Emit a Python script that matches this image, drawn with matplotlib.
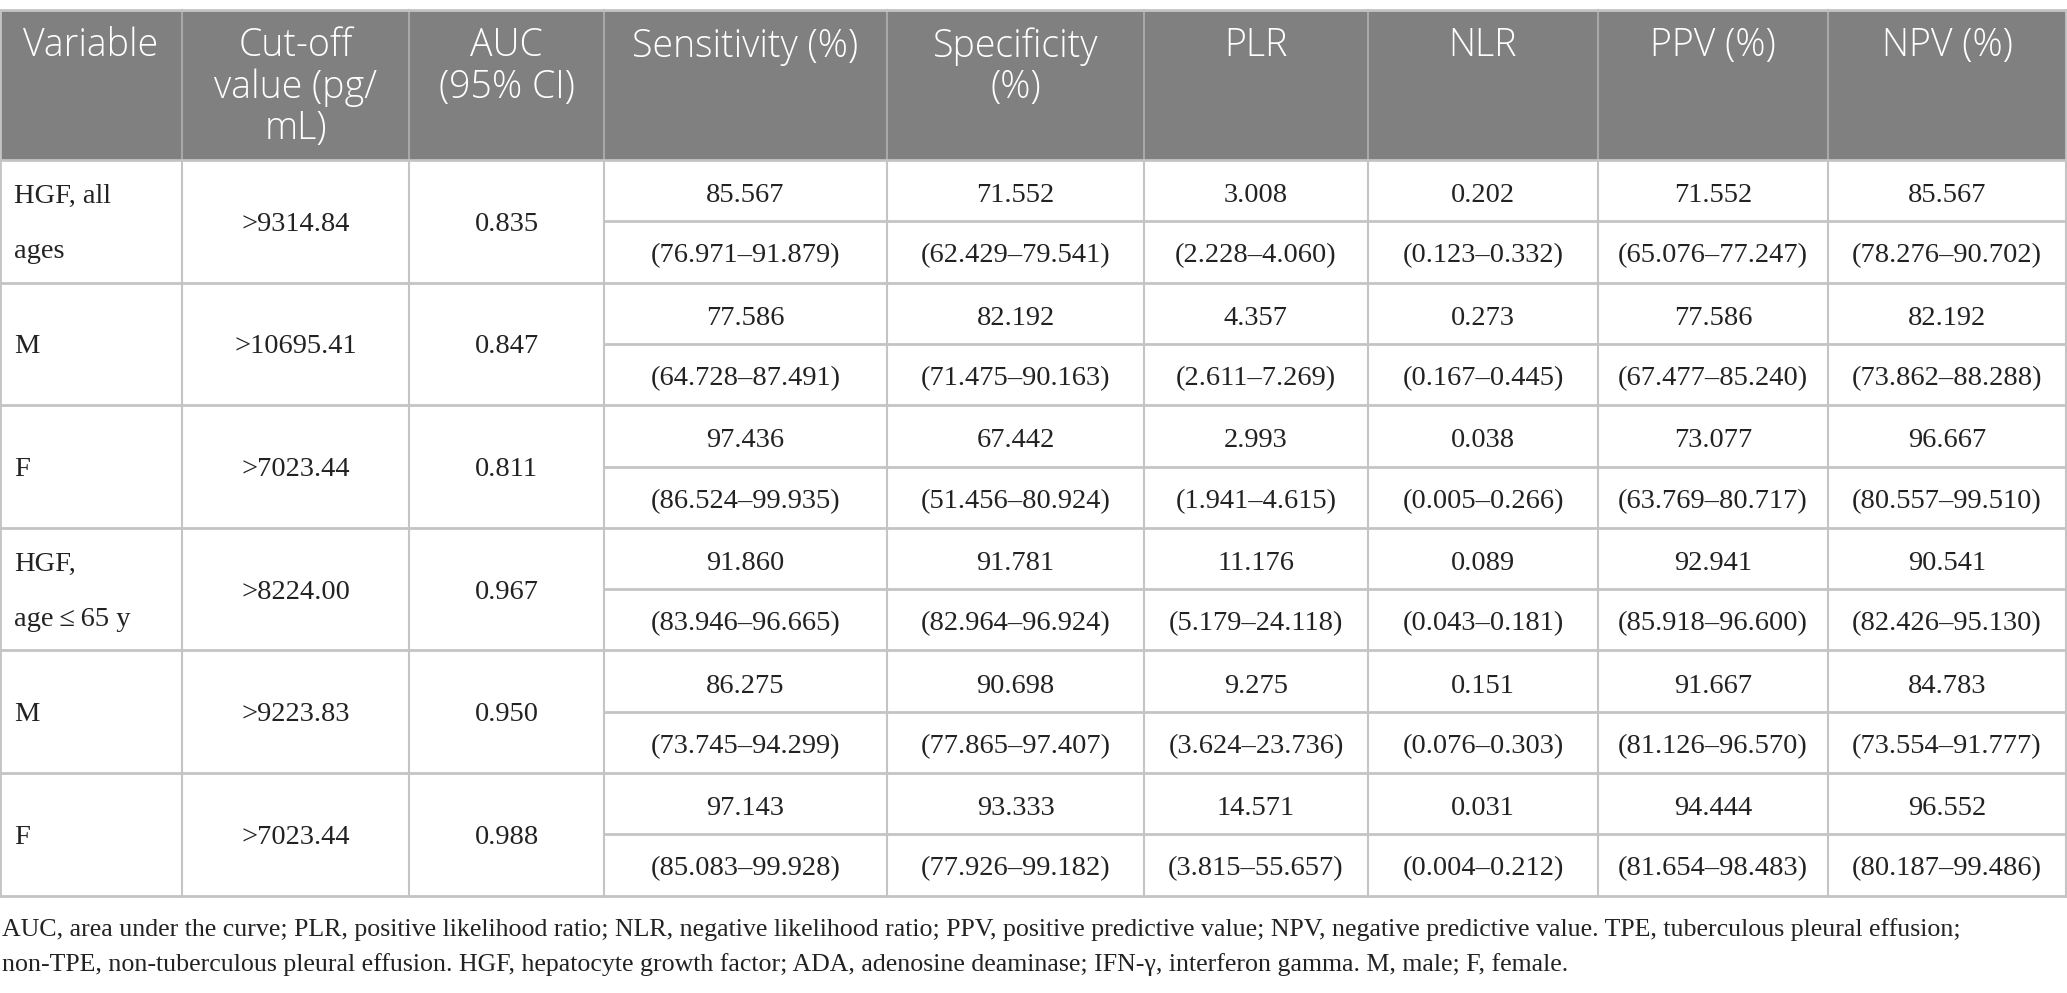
import matplotlib.pyplot as plt
from matplotlib.patches import Rectangle

# table content
headers = ["Variable", "Cut-off\nvalue (pg/\nmL)", "AUC\n(95% CI)", "Sensitivity (%)",
           "Specificity\n(%)", "PLR", "NLR", "PPV (%)", "NPV (%)"]
variables = ["HGF, all\nages", "M", "F", "HGF,\nage\u2009\u2264\u200965 y", "M", "F"]
cutoffs = [">9314.84", ">10695.41", ">7023.44", ">8224.00", ">9223.83", ">7023.44"]
aucs = ["0.835", "0.847", "0.811", "0.967", "0.950", "0.988"]

sens = ["85.567", "77.586", "97.436", "91.860", "86.275", "97.143"]
sens_ci = ["(76.971\u201391.879)", "(64.728\u201387.491)", "(86.524\u201399.935)",
           "(83.946\u201396.665)", "(73.745\u201394.299)", "(85.083\u201399.928)"]
spec = ["71.552", "82.192", "67.442", "91.781", "90.698", "93.333"]
spec_ci = ["(62.429\u201379.541)", "(71.475\u201390.163)", "(51.456\u201380.924)",
           "(82.964\u201396.924)", "(77.865\u201397.407)", "(77.926\u201399.182)"]
plr = ["3.008", "4.357", "2.993", "11.176", "9.275", "14.571"]
plr_ci = ["(2.228\u20134.060)", "(2.611\u20137.269)", "(1.941\u20134.615)",
          "(5.179\u201324.118)", "(3.624\u201323.736)", "(3.815\u201355.657)"]
nlr = ["0.202", "0.273", "0.038", "0.089", "0.151", "0.031"]
nlr_ci = ["(0.123\u20130.332)", "(0.167\u20130.445)", "(0.005\u20130.266)",
          "(0.043\u20130.181)", "(0.076\u20130.303)", "(0.004\u20130.212)"]
ppv = ["71.552", "77.586", "73.077", "92.941", "91.667", "94.444"]
ppv_ci = ["(65.076\u201377.247)", "(67.477\u201385.240)", "(63.769\u201380.717)",
          "(85.918\u201396.600)", "(81.126\u201396.570)", "(81.654\u201398.483)"]
npv = ["85.567", "82.192", "96.667", "90.541", "84.783", "96.552"]
npv_ci = ["(78.276\u201390.702)", "(73.862\u201388.288)", "(80.557\u201399.510)",
          "(82.426\u201395.130)", "(73.554\u201391.777)", "(80.187\u201399.486)"]

footnote = ("AUC, area under the curve; PLR, positive likelihood ratio; NLR, negative likelihood ratio; "
            "PPV, positive predictive value; NPV, negative predictive value. TPE, tuberculous pleural effusion;\n"
            "non-TPE, non-tuberculous pleural effusion. HGF, hepatocyte growth factor; ADA, adenosine deaminase; "
            "IFN-\u03b3, interferon gamma. M, male; F, female.")

# layout (pixels)
W, H = 2067, 993
col_w = [182, 227, 195, 283, 257, 224, 230, 230, 238]
top, head_h, row_h = 10, 150, 122.6
header_bg = "#808080"
grid = "#c4c4c4"

col_x = [0]
for w in col_w:
    col_x.append(col_x[-1] + w)

fig = plt.figure(figsize=(W / 100, H / 100), dpi=100)
ax = fig.add_axes([0, 0, 1, 1])
ax.set_xlim(0, W)
ax.set_ylim(H, 0)
ax.axis("off")

head_font = dict(family=["Open Sans", "DejaVu Sans"], fontsize=27, color="white", fontweight="light")
serif = ["Liberation Serif", "DejaVu Serif"]
ink = "#222222"

# header
ax.add_patch(Rectangle((0, top), col_x[-1], head_h, facecolor=header_bg, edgecolor="none"))
for i, h in enumerate(headers):
    cx = (col_x[i] + col_x[i + 1]) / 2
    ax.text(cx, top + 17, h, ha="center", va="top", linespacing=1.1, **head_font)
for x in col_x[1:-1]:
    ax.plot([x, x], [top, top + head_h], color="#a8a8a8", lw=1.5)

body_top = top + head_h
n = len(variables)
bottom = body_top + n * row_h

# grid lines
ax.plot([0, col_x[-1]], [top, top], color=grid, lw=2)
for r in range(n + 1):
    y = body_top + r * row_h
    ax.plot([0, col_x[-1]], [y, y], color=grid, lw=2)
for r in range(n):
    y = body_top + r * row_h + row_h / 2
    ax.plot([col_x[3], col_x[-1]], [y, y], color=grid, lw=2)
for x in col_x:
    ax.plot([x, x], [body_top, bottom], color=grid, lw=1.5)
ax.plot([col_x[0], col_x[0]], [top, bottom], color=grid, lw=2)
ax.plot([col_x[-1], col_x[-1]], [top, bottom], color=grid, lw=2)

# body
pairs = [(sens, sens_ci), (spec, spec_ci), (plr, plr_ci), (nlr, nlr_ci), (ppv, ppv_ci), (npv, npv_ci)]
for r in range(n):
    y0 = body_top + r * row_h
    yc = y0 + row_h / 2
    ax.text(14, yc + 3, variables[r], ha="left", va="center", family=serif, fontsize=20.5,
            linespacing=2.6, color=ink)
    ax.text((col_x[1] + col_x[2]) / 2, yc + 3, cutoffs[r], ha="center", va="center",
            family=serif, fontsize=20.5, color=ink)
    ax.text((col_x[2] + col_x[3]) / 2, yc + 3, aucs[r], ha="center", va="center",
            family=serif, fontsize=20.5, color=ink)
    for j, (vals, cis) in enumerate(pairs):
        c = 3 + j
        cx = (col_x[c] + col_x[c + 1]) / 2
        ax.text(cx, y0 + row_h / 4 + 5, vals[r], ha="center", va="center", family=serif,
                fontsize=20.5, color=ink)
        ax.text(cx, y0 + 3 * row_h / 4 + 4, cis[r], ha="center", va="center", family=serif,
                fontsize=20.5, color=ink)

ax.text(2, bottom + 22, footnote, ha="left", va="top", family=serif, fontsize=18.6,
        linespacing=1.7, color=ink)

fig.savefig("out.png", dpi=100, facecolor="white")
